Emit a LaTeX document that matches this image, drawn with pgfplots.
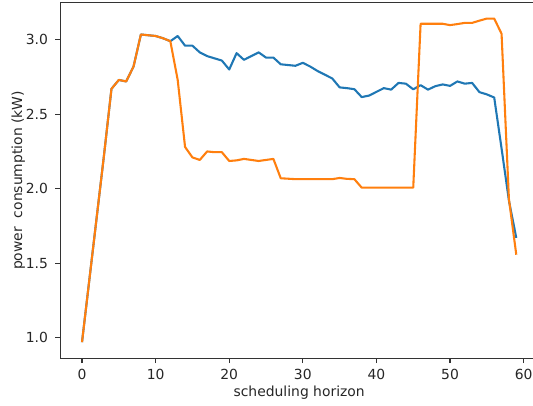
\documentclass[border=0pt]{standalone}
\usepackage{fontspec}
\setmainfont{DejaVu Sans}
\usepackage{pgfplots}
\pgfplotsset{compat=1.18}
\definecolor{mblue}{HTML}{1F77B4}
\definecolor{morange}{HTML}{FF7F0E}
\begin{document}
\begin{tikzpicture}
\path[use as bounding box] (-60.3pt,-46.7pt) rectangle (472.7pt,358.3pt);
\clip (-60.3pt,-46.7pt) rectangle (472.7pt,358.3pt);
\begin{axis}[
  at={(0pt,0pt)}, anchor=south west,
  scale only axis, width=477.7pt, height=355.6pt,
  xmin=-2.95, xmax=61.95, ymin=0.8615, ymax=3.2485,
  xtick={0,10,20,30,40,50,60}, ytick={1.0,1.5,2.0,2.5,3.0},
  yticklabel style={/pgf/number format/fixed, /pgf/number format/fixed zerofill, /pgf/number format/precision=1, xshift=-4pt},
  xticklabel style={yshift=-2pt},
  /pgf/number format/assume math mode=true,
  tick label style={font=\fontsize{13.9pt}{16pt}\selectfont, text=black!85},
  label style={font=\fontsize{13.9pt}{16pt}\selectfont, text=black!85},
  ylabel style={yshift=-6pt},
  tick align=outside, tick pos=left, major tick length=4.86pt,
  every tick/.style={black!80, line width=1.1pt},
  axis line style={black!80, line width=1.1pt},
  xlabel={scheduling horizon},
  ylabel={power\ \ consumption (kW)},
]
\addplot[mblue, line width=2.08pt, line join=round] coordinates {
(0,0.97) (1,1.39) (2,1.81) (3,2.23) (4,2.67) (5,2.73) (6,2.72) (7,2.82) (8,3.035) (9,3.03)
(10,3.025) (11,3.01) (12,2.99) (13,3.025) (14,2.96) (15,2.96) (16,2.915) (17,2.89) (18,2.875) (19,2.86)
(20,2.80) (21,2.91) (22,2.865) (23,2.89) (24,2.915) (25,2.88) (26,2.88) (27,2.835) (28,2.83) (29,2.825)
(30,2.845) (31,2.82) (32,2.79) (33,2.765) (34,2.74) (35,2.68) (36,2.675) (37,2.668) (38,2.615) (39,2.625)
(40,2.65) (41,2.675) (42,2.665) (43,2.71) (44,2.705) (45,2.667) (46,2.695) (47,2.665) (48,2.688) (49,2.70)
(50,2.69) (51,2.72) (52,2.705) (53,2.71) (54,2.648) (55,2.633) (56,2.612) (57,2.27) (58,1.92) (59,1.67)
};
\addplot[morange, line width=2.08pt, line join=round] coordinates {
(0,0.97) (1,1.39) (2,1.81) (3,2.23) (4,2.67) (5,2.73) (6,2.72) (7,2.82) (8,3.035) (9,3.03)
(10,3.025) (11,3.01) (12,2.99) (13,2.73) (14,2.28) (15,2.21) (16,2.193) (17,2.25) (18,2.245) (19,2.245)
(20,2.186) (21,2.19) (22,2.2) (23,2.193) (24,2.186) (25,2.193) (26,2.2) (27,2.07) (28,2.067) (29,2.064)
(30,2.064) (31,2.064) (32,2.064) (33,2.064) (34,2.064) (35,2.072) (36,2.066) (37,2.064) (38,2.007) (39,2.007)
(40,2.007) (41,2.007) (42,2.007) (43,2.007) (44,2.007) (45,2.007) (46,3.107) (47,3.107) (48,3.107) (49,3.107)
(50,3.098) (51,3.105) (52,3.113) (53,3.113) (54,3.128) (55,3.142) (56,3.142) (57,3.04) (58,1.93) (59,1.557)
};
\end{axis}
\end{tikzpicture}
\end{document}
